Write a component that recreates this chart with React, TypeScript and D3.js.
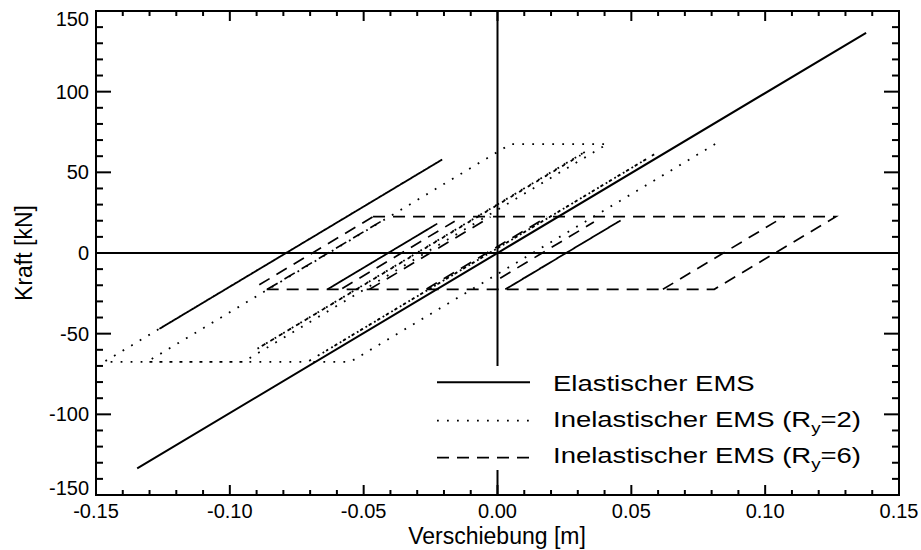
import React from 'react';
import * as d3 from 'd3';

type Pt = [number, number];

// ---- axis ticks ----
const xTickValues = [-0.15, -0.1, -0.05, 0, 0.05, 0.1, 0.15];
const xTickLabels = ['-0.15', '-0.10', '-0.05', '0.00', '0.05', '0.10', '0.15'];
const yTickValues = [-150, -100, -50, 0, 50, 100, 150];
const yTickLabels = ['-150', '-100', '-50', '0', '50', '100', '150'];

const xTitle = 'Verschiebung [m]';
const yTitle = 'Kraft [kN]';

// ---- series (displacement [m], force [kN]) ----
const elasticEMS: Pt[][] = [
  [[0, 0], [0.1377, 136.5], [-0.1346, -133.5], [0, 0]],
];

const inelasticRy2: Pt[][] = [
  [[0.0813, 67.5], [-0.055, -67.5], [-0.071, -67.5], [0.0597, 62.3], [-0.062, -58.6], [0.056, 58.6],
   [-0.066, -62.6], [0.0597, 62.3], [-0.071, -67.5], [-0.131, -67.5], [0.0049, 67.5], [0.041, 67.5],
   [-0.095, -67.5], [-0.147, -67.5], [-0.0203, 58.3], [-0.127, -47.7], [-0.0215, 57.1], [-0.1255, -46.2],
   [-0.0208, 57.8], [-0.1265, -47.2], [-0.021, 57.6], [-0.126, -46.7], [-0.0206, 58.0], [-0.1268, -47.5],
   [-0.0212, 57.4], [-0.1258, -46.5], [-0.0204, 58.2], [-0.1262, -46.9], [-0.0209, 57.7]],
  [[0.0326, 62.6], [-0.09, -59.6], [0.031, 60.6], [-0.089, -58.6], [0.0326, 62.6]],
];

const inelasticRy6: Pt[][] = [
  [[-0.0465, 22.5], [0.1264, 22.5], [0.081, -22.5], [-0.087, -22.5]],
  [[0.0618, -22.5], [0.107, 22.5]],
  [[0.0029, -22.5], [0.0465, 20.7], [0.005, -20.4], [0.045, 19.2], [0.0035, -22.0], [0.0465, 20.7]],
  [[0.001, -15.6], [0.036, 19.2]],
  [[-0.0265, -22.3], [0.0185, 22.3]],
  [[-0.0635, -22.5], [-0.0225, 18.2], [-0.0605, -19.5], [-0.025, 15.7], [-0.063, -22.0], [-0.0225, 18.2],
   [-0.0615, -20.5], [-0.0235, 17.2], [-0.0625, -21.5], [-0.024, 16.7], [-0.061, -20.0]],
  [[-0.089, -19.7], [-0.0465, 22.5]],
  [[-0.086, -22.5], [-0.0425, 20.6]],
  [[-0.058, -22.0], [-0.016, 19.7]],
  [[-0.0478, -22.5], [-0.0026, 22.4]],
];

const legendMain = ['Elastischer EMS', 'Inelastischer EMS (R', 'Inelastischer EMS (R'];
const legendSub = ['', 'y', 'y'];
const legendTail = ['', '=2)', '=6)'];

const FONT = '"Liberation Sans", Arial, Helvetica, sans-serif';

const styles = [
  { width: 2, dash: undefined as string | undefined },
  { width: 1.8, dash: '1.8 8.2' },
  { width: 1.7, dash: '12 8' },
];

export default function App() {
  const L = 96, R = 899, T = 11, B = 495;
  const x = d3.scaleLinear().domain([-0.15, 0.15]).range([L, R]);
  const y = d3.scaleLinear().domain([-150, 150]).range([B, T]);
  const line = d3.line<Pt>().x(d => x(d[0])).y(d => y(d[1]));

  const xMinor = d3.range(-14, 15).filter(i => i % 5 !== 0).map(i => i / 100);
  const yMinor = d3.range(-14, 15).filter(i => i % 5 !== 0).map(i => i * 10);

  const series = [elasticEMS, inelasticRy2, inelasticRy6];

  const legX0 = 437, legX1 = 530, legTextX = 553;
  const legLineY = [382.3, 420.7, 457.7];
  const legBase = [390.7, 427.3, 463.3];

  return (
    <svg width={921} height={550} style={{ position: 'absolute', left: 0, top: 0, background: '#fff' }}
      fontFamily={FONT}>
      <rect x={0} y={0} width={921} height={550} fill="#fff" />
      {/* zero lines */}
      <line x1={L} x2={R} y1={y(0)} y2={y(0)} stroke="#000" strokeWidth={2} />
      <line x1={x(0)} x2={x(0)} y1={T} y2={B} stroke="#000" strokeWidth={2} />

      {/* data */}
      {series.map((s, si) => (
        <g key={si}>
          {s.map((p, pi) => (
            <path key={pi} d={line(p) || ''} fill="none" stroke="#000"
              strokeWidth={styles[si].width} strokeDasharray={styles[si].dash} />
          ))}
        </g>
      ))}

      {/* legend */}
      <rect x={425} y={366} width={460} height={104} fill="#fff" />
      {legendMain.map((t, i) => (
        <g key={i}>
          <line x1={legX0} x2={legX1} y1={legLineY[i]} y2={legLineY[i]} stroke="#000"
            strokeWidth={styles[i].width} strokeDasharray={styles[i].dash} />
          <g transform={`translate(${legTextX},${legBase[i]}) scale(1.25,1)`}>
            <text x={0} y={0} fontSize={22} fill="#000">
              {t}
              {legendSub[i] && <tspan fontSize={15} dy={6}>{legendSub[i]}</tspan>}
              {legendTail[i] && <tspan dy={-6}>{legendTail[i]}</tspan>}
            </text>
          </g>
        </g>
      ))}

      {/* frame */}
      <rect x={L} y={T} width={R - L} height={B - T} fill="none" stroke="#000" strokeWidth={2} />

      {/* x ticks */}
      {xTickValues.map(v => (
        <g key={'xm' + v}>
          <line x1={x(v)} x2={x(v)} y1={B} y2={B - 10} stroke="#000" strokeWidth={2} />
          <line x1={x(v)} x2={x(v)} y1={T} y2={T + 10} stroke="#000" strokeWidth={2} />
        </g>
      ))}
      {xMinor.map(v => (
        <g key={'xn' + v}>
          <line x1={x(v)} x2={x(v)} y1={B} y2={B - 5} stroke="#000" strokeWidth={2} />
          <line x1={x(v)} x2={x(v)} y1={T} y2={T + 5} stroke="#000" strokeWidth={2} />
        </g>
      ))}
      {/* y ticks */}
      {yTickValues.map(v => (
        <g key={'ym' + v}>
          <line x1={L} x2={L + 15} y1={y(v)} y2={y(v)} stroke="#000" strokeWidth={2} />
          <line x1={R} x2={R - 15} y1={y(v)} y2={y(v)} stroke="#000" strokeWidth={2} />
        </g>
      ))}
      {yMinor.map(v => (
        <g key={'yn' + v}>
          <line x1={L} x2={L + 7} y1={y(v)} y2={y(v)} stroke="#000" strokeWidth={2} />
          <line x1={R} x2={R - 7} y1={y(v)} y2={y(v)} stroke="#000" strokeWidth={2} />
        </g>
      ))}

      {/* tick labels */}
      {xTickValues.map((v, i) => (
        <text key={'xl' + v} x={x(v)} y={518} fontSize={20} textAnchor="middle" fill="#000">
          {xTickLabels[i]}
        </text>
      ))}
      {yTickValues.map((v, i) => {
        const shift = v === 150 ? 8 : v === -150 ? -7 : 0;
        return (
          <text key={'yl' + v} x={89} y={y(v) + shift + 7} fontSize={20} textAnchor="end" fill="#000">
            {yTickLabels[i]}
          </text>
        );
      })}

      {/* axis titles */}
      <text x={497} y={544} fontSize={23} textAnchor="middle" fill="#000">{xTitle}</text>
      <text transform={`translate(32,253) rotate(-90)`} fontSize={23} textAnchor="middle" fill="#000">{yTitle}</text>
    </svg>
  );
}
